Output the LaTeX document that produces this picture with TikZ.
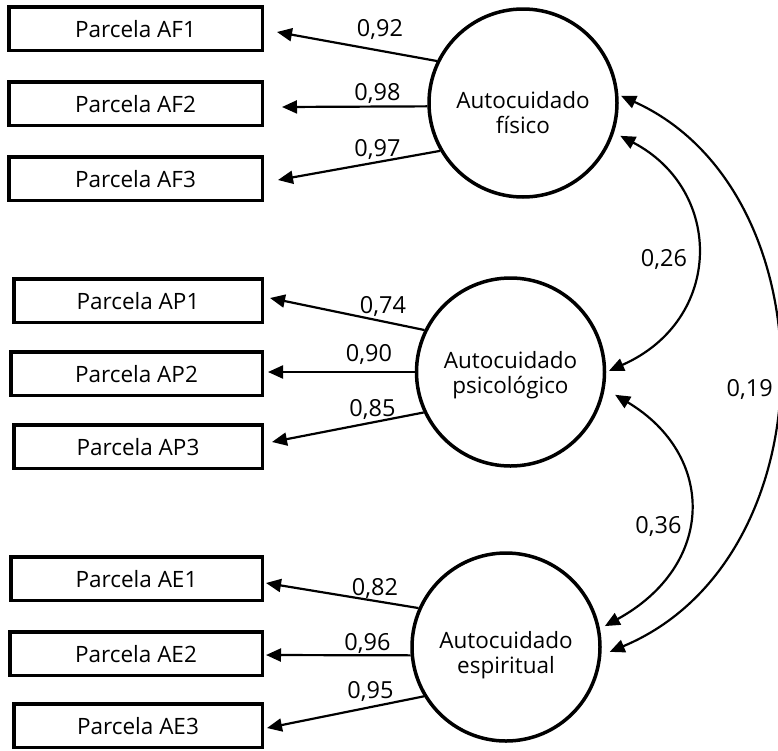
\documentclass[tikz,border=0pt]{standalone}
\usepackage{fontspec}
\setmainfont{Open Sans}
\usetikzlibrary{arrows.meta}
\begin{document}
\begin{tikzpicture}[x=1pt,y=-1pt,
  obs/.style={draw, line width=3.5pt, minimum height=43.5pt, anchor=east, inner sep=0pt,
    text height=18.5pt, text depth=0pt, font=\fontsize{22.5}{25}\selectfont},
  lat/.style={draw, circle, line width=3.5pt, minimum size=188pt, inner sep=0pt,
    text depth=0pt, font=\fontsize{22.5}{25}\selectfont},
  load/.style={line width=2.2pt, -{Triangle[length=15pt,width=13pt]}},
  cov/.style={line width=2.2pt, {Triangle[length=15pt,width=13pt]}-{Triangle[length=15pt,width=13pt]}},
  coef/.style={anchor=base, inner sep=0pt, font=\fontsize{23.5}{25}\selectfont}]
\useasboundingbox (0,0) rectangle (778,750);

% observed boxes
\node[obs, minimum width=253.5pt] (af1) at (264,28.5) {Parcela AF1};
\node[obs, minimum width=253.5pt] (af2) at (264,103.5) {Parcela AF2};
\node[obs, minimum width=253.5pt] (af3) at (264,178.5) {Parcela AF3};
\node[obs, minimum width=248.5pt] (ap1) at (264,300.5) {Parcela AP1};
\node[obs, minimum width=251.5pt] (ap2) at (264,373.5) {Parcela AP2};
\node[obs, minimum width=248.5pt] (ap3) at (264,446.5) {Parcela AP3};
\node[obs, minimum width=251.5pt] (ae1) at (264,578.5) {Parcela AE1};
\node[obs, minimum width=252.5pt] (ae2) at (264,653.5) {Parcela AE2};
\node[obs, minimum width=248.5pt] (ae3) at (264,725.5) {Parcela AE3};

% latent circles
\node[lat, text height=60pt] (af) at (523,103) {\begin{tabular}[b]{@{}c@{}}Autocuidado\\físico\end{tabular}};
\node[lat, text height=42pt] (ap) at (510.5,372) {\begin{tabular}[b]{@{}c@{}}Autocuidado\\psicológico\end{tabular}};
\node[lat, text height=52pt] (esp) at (506,647) {\begin{tabular}[b]{@{}c@{}}Autocuidado\\espiritual\end{tabular}};

% loadings
\draw[load] (af.154.5) -- ([shift={(13,3.5)}]af1.east);
\draw[load] (af.182.4) -- ([shift={(18,3.5)}]af2.east);
\draw[load] (af.210.5) -- ([shift={(14,1.5)}]af3.east);
\draw[load] (ap.154.4) -- ([shift={(6,-2.5)}]ap1.east);
\draw[load] (ap.180) -- ([shift={(4,-1.5)}]ap2.east);
\draw[load] (ap.205.4) -- ([shift={(8,-4.5)}]ap3.east);
\draw[load] (esp.156.9) -- ([shift={(2,4.5)}]ae1.east);
\draw[load] (esp.185) -- ([shift={(2,1.5)}]ae2.east);
\draw[load] (esp.211.8) -- ([shift={(3,2.5)}]ae3.east);

% loading labels
\node[coef] (l1) at (380,36.7) {0,92};
\node[coef] (l2) at (377.5,100) {0,98};
\node[coef] (l3) at (377.5,156.7) {0,97};
\node[coef] (l4) at (383,313.3) {0,74};
\node[coef] (l5) at (369,361.7) {0,90};
\node[coef] (l6) at (372.5,416.7) {0,85};
\node[coef] (l7) at (375,595) {0,82};
\node[coef] (l8) at (367.5,650) {0,96};
\node[coef] (l9) at (370.5,698) {0,95};

% covariances
\draw[cov, shorten <=9pt, shorten >=3pt] (esp.-5.5) .. controls (832,559) and (832,191) .. (af.5.8);
\draw[cov, shorten <=3pt, shorten >=7pt] (ap.-0.6) .. controls (724,320) and (724,190) .. (af.-18.8);
\draw[cov, shorten <=5.5pt, shorten >=12pt] (esp.11.4) .. controls (716,565) and (716,455) .. (ap.-10.7);

\node[coef] (c1) at (664,266.7) {0,26};
\node[coef] (c2) at (658.5,533.3) {0,36};
\node[coef] (c3) at (749.7,396.7) {0,19};
\end{tikzpicture}
\end{document}
